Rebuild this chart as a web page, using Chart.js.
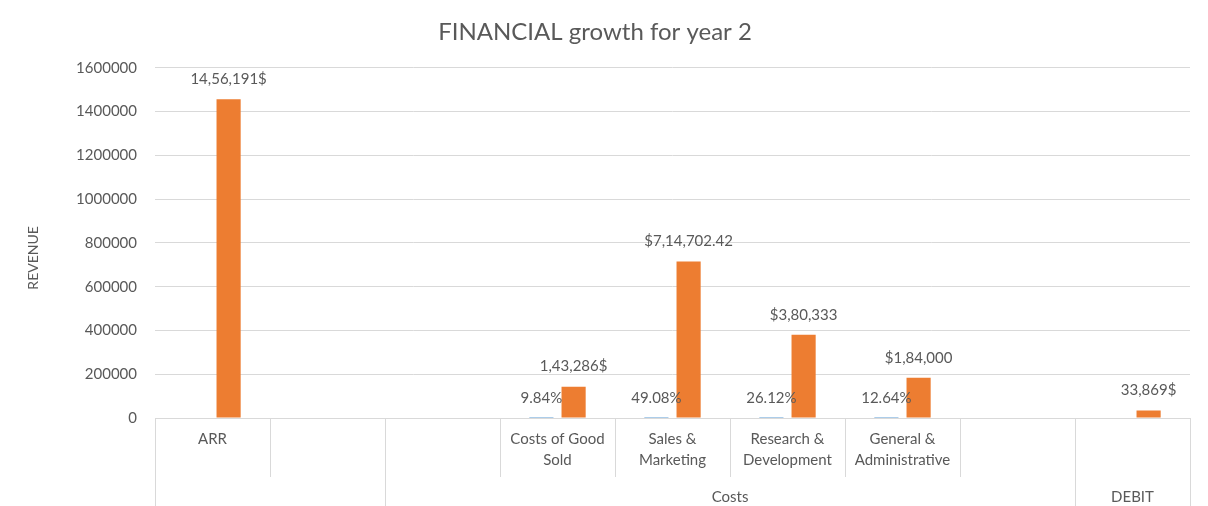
<!DOCTYPE html>
<html>
<head>
<meta charset="utf-8">
<script src="https://cdn.jsdelivr.net/npm/chart.js@4.4.0/dist/chart.umd.min.js"></script>
<style>
	html, body { margin: 0; padding: 0; background: #fff; }
	#wrap { width: 1208px; height: 506px; }
</style>
</head>
<body>
<div id="wrap"><canvas id="chartFinanzas"></canvas></div>
<script>
// Categorías (nivel interno y grupos externos)
const categorias = ['ARR', '', '', ['Costs of Good', 'Sold'], ['Sales &', 'Marketing'], ['Research &', 'Development'], ['General &', 'Administrative'], '', ''];
const grupos = ['', 'Costs', 'DEBIT'];
const tamanoGrupos = [2, 6, 1];

// Series
const montos = [1456191, null, null, 143286, 714702.42, 380333, 184000, null, 33869];
const etiquetasMontos = ['14,56,191$', '', '', '1,43,286$', '$7,14,702.42', '$3,80,333', '$1,84,000', '', '33,869$'];
const porcentajes = [null, null, null, 9.84, 49.08, 26.12, 12.64, null, null];
const etiquetasPorcentajes = ['', '', '', '9.84%', '49.08%', '26.12%', '12.64%', '', ''];

// Eje Y
const ejeMin = 0;
const ejeMax = 1600000;
const ejePaso = 200000;
const tituloEjeY = 'REVENUE';

const gris = '#595959';
const lineaGris = '#D9D9D9';
const fuente = 'Lato, "Open Sans", sans-serif';

// Etiquetas de datos encima de cada barra
const etiquetasPlugin = {
	id: 'etiquetas',
	afterDatasetsDraw(chart) {
		const ctx = chart.ctx;
		const textos = [etiquetasPorcentajes, etiquetasMontos];
		ctx.save();
		ctx.fillStyle = gris;
		ctx.font = '15px ' + fuente;
		ctx.textAlign = 'center';
		ctx.textBaseline = 'middle';
		chart.data.datasets.forEach((ds, i) => {
			const meta = chart.getDatasetMeta(i);
			meta.data.forEach((el, j) => {
				const t = textos[i][j];
				if (!t || ds.data[j] === null) return;
				ctx.fillText(t, el.x, el.y - 20);
			});
		});
		ctx.restore();
	}
};

// Divisiones del eje de categorías de varios niveles + título del eje Y
const divisionesPlugin = {
	id: 'divisiones',
	afterDraw(chart) {
		const x = chart.scales.x;
		const area = chart.chartArea;
		const ctx = chart.ctx;
		const n = categorias.length;
		const ancho = (x.right - x.left) / n;
		const base = x.top;
		const bordes = [0];
		let acc = 0;
		tamanoGrupos.forEach(t => { acc += t; bordes.push(acc); });

		ctx.save();
		ctx.strokeStyle = lineaGris;
		ctx.lineWidth = 1;
		for (let i = 0; i <= n; i++) {
			const px = Math.round(x.left + i * ancho) + 0.5;
			const fin = bordes.includes(i) ? chart.height : base + 59;
			ctx.beginPath();
			ctx.moveTo(px, base);
			ctx.lineTo(px, fin);
			ctx.stroke();
		}
		ctx.fillStyle = gris;
		ctx.font = '15px ' + fuente;
		ctx.textAlign = 'center';
		ctx.textBaseline = 'middle';
		grupos.forEach((g, k) => {
			if (!g) return;
			const cx = x.left + (bordes[k] + bordes[k + 1]) / 2 * ancho;
			ctx.fillText(g, cx, base + 79);
		});

		// título del eje Y
		ctx.translate(33, (area.top + area.bottom) / 2 + 15);
		ctx.rotate(-Math.PI / 2);
		ctx.font = '14px ' + fuente;
		ctx.fillText(tituloEjeY, 0, 0);
		ctx.restore();
	}
};

new Chart(document.getElementById('chartFinanzas'), {
	type: 'bar',
	data: {
		labels: categorias,
		datasets: [{
			label: 'Share',
			data: porcentajes,
			backgroundColor: '#5B9BD5',
			categoryPercentage: 0.56,
			barPercentage: 0.75
		}, {
			label: 'Amount',
			data: montos,
			backgroundColor: '#ED7D31',
			categoryPercentage: 0.56,
			barPercentage: 0.75
		}]
	},
	options: {
		responsive: true,
		maintainAspectRatio: false,
		animation: false,
		layout: {
			padding: { left: 0, right: 18, top: 0, bottom: 0 }
		},
		plugins: {
			legend: { display: false },
			tooltip: { enabled: false },
			title: {
				display: true,
				text: 'FINANCIAL growth for year 2',
				color: gris,
				font: { family: fuente, size: 24, weight: 'normal' },
				padding: { top: 18, bottom: 21 }
			}
		},
		scales: {
			x: {
				grid: { display: false, drawTicks: false },
				border: { display: true, color: lineaGris },
				ticks: {
					color: gris,
					font: { family: fuente, size: 15, lineHeight: 1.4 },
					autoSkip: false,
					maxRotation: 0,
					padding: 11
				},
				afterFit: function(scale) { scale.height = 88; }
			},
			y: {
				min: ejeMin,
				max: ejeMax,
				grid: { color: lineaGris, drawTicks: false },
				border: { display: false },
				ticks: {
					stepSize: ejePaso,
					color: gris,
					font: { family: fuente, size: 15 },
					padding: 18,
					callback: function(value) { return String(value); }
				},
				afterFit: function(scale) { scale.width = 155; }
			}
		}
	},
	plugins: [etiquetasPlugin, divisionesPlugin]
});
</script>
</body>
</html>
